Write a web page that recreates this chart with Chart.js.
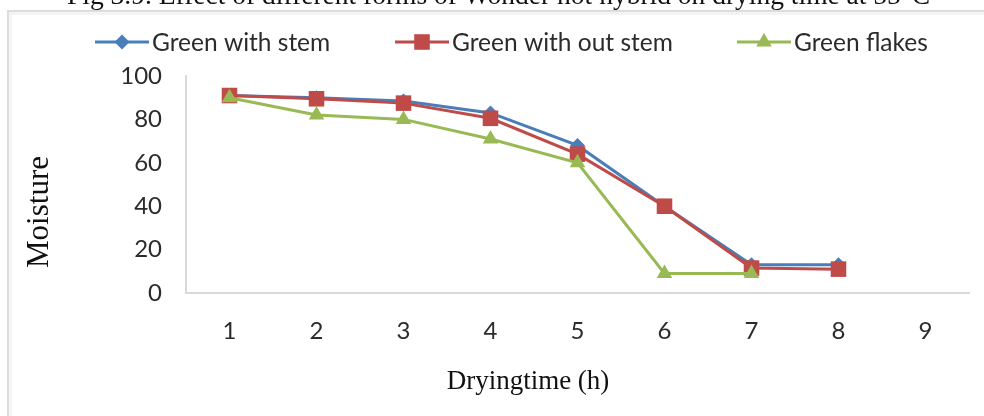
<!DOCTYPE html>
<html>
<head>
<meta charset="utf-8">
<script src="https://cdn.jsdelivr.net/npm/chart.js@4.4.1/dist/chart.umd.min.js"></script>
<style>
  html, body { margin: 0; padding: 0; background: #fff; }
  #wrap { width: 984px; height: 416px; position: relative; }
</style>
</head>
<body>
<div id="wrap"><canvas id="grafikk" width="984" height="416"></canvas></div>
<script>
// drying hours on the x axis (9 has no readings)
const timer = ["1", "2", "3", "4", "5", "6", "7", "8", "9"];

// moisture readings per sample form
const medStilk = [91, 90, 88.5, 83, 68, 40, 13, 13];
const utenStilk = [91, 89.5, 87.5, 80.5, 64, 40, 11.5, 11];
const flak = [90, 82, 80, 71, 60, 9, 9];

const yTicks = [0, 20, 40, 60, 80, 100];

const navn = ["Green with stem", "Green with out stem", "Green flakes"];
const farger = ["#4a7ebb", "#be4b48", "#98b954"];

const tittel = "Fig 3.9. Effect of different forms of Wonder hot hybrid on drying time at 55°C";
const yTittel = "Moisture";
const xTittel = "Dryingtime (h)";

const sansFont = "Lato";
const serifFont = "'Liberation Serif', 'Times New Roman', serif";

// where each legend entry starts
const legendX = [95, 395, 737];

// frame, caption, axis titles and an Excel-style legend (line + marker)
const pynt = {
    id: "pynt",
    beforeDraw(chart) {
        const ctx = chart.ctx;
        ctx.save();
        ctx.fillStyle = "#fff";
        ctx.fillRect(0, 0, chart.width, chart.height);
        ctx.strokeStyle = "#dcdcdc";
        ctx.lineWidth = 2;
        ctx.beginPath();
        ctx.moveTo(8, chart.height);
        ctx.lineTo(8, 11);
        ctx.lineTo(chart.width, 11);
        ctx.stroke();
        ctx.strokeStyle = "#f0f0f0";
        ctx.beginPath();
        ctx.moveTo(10.5, chart.height);
        ctx.lineTo(10.5, 13.5);
        ctx.lineTo(chart.width, 13.5);
        ctx.stroke();

        ctx.fillStyle = "#111";
        ctx.font = "27.5px " + serifFont;
        ctx.textBaseline = "alphabetic";
        ctx.textAlign = "left";
        ctx.fillText(tittel, 67, 4);
        ctx.restore();
    },
    afterDraw(chart) {
        const ctx = chart.ctx;
        ctx.save();
        ctx.fillStyle = "#111";
        ctx.textAlign = "center";
        ctx.textBaseline = "middle";

        ctx.font = "31px " + serifFont;
        ctx.translate(40, 212);
        ctx.rotate(-Math.PI / 2);
        ctx.fillText(yTittel, 0, 0);
        ctx.setTransform(1, 0, 0, 1, 0, 0);

        ctx.font = "27px " + serifFont;
        ctx.fillText(xTittel, 528, 382);

        // legend
        ctx.font = "24.5px " + sansFont;
        ctx.textAlign = "left";
        const y = 42;
        chart.data.datasets.forEach(function (ds, i) {
            const x = legendX[i];
            ctx.strokeStyle = ds.borderColor;
            ctx.lineWidth = 3;
            ctx.beginPath();
            ctx.moveTo(x, y);
            ctx.lineTo(x + 54, y);
            ctx.stroke();
            ctx.fillStyle = ds.pointBackgroundColor;
            Chart.helpers.drawPoint(ctx, {
                pointStyle: ds.pointStyle,
                radius: ds.pointRadius,
                borderWidth: 0,
                rotation: 0
            }, x + 27, y);
            ctx.fillStyle = "#2b2b2b";
            ctx.fillText(ds.label, x + 57, y + 1);
        });
        ctx.restore();
    }
};

const datasett = [
    { data: medStilk, pointStyle: "rectRot", pointRadius: 7.5, order: 2 },
    { data: utenStilk, pointStyle: "rect", pointRadius: 11, order: 1 },
    { data: flak, pointStyle: "triangle", pointRadius: 9, order: 0 }
].map(function (d, i) {
    return Object.assign({
        label: navn[i],
        borderColor: farger[i],
        backgroundColor: farger[i],
        pointBackgroundColor: farger[i],
        pointBorderColor: farger[i],
        pointBorderWidth: 0,
        borderWidth: 3,
        tension: 0,
        fill: false
    }, d);
});

const config = {
    type: "line",
    data: { labels: timer, datasets: datasett },
    options: {
        responsive: false,
        animation: false,
        layout: { padding: { left: 10, right: 15, top: 76, bottom: 0 } },
        plugins: {
            legend: { display: false },
            tooltip: { enabled: false }
        },
        scales: {
            x: {
                offset: true,
                grid: { display: false, drawTicks: false },
                border: { display: true, color: "#d9d9d9", width: 2 },
                ticks: {
                    color: "#2b2b2b",
                    padding: 24,
                    maxRotation: 0,
                    font: { family: sansFont, size: 24 }
                },
                afterFit: function (s) { s.height = 123; }
            },
            y: {
                min: 0,
                max: 100,
                grid: { display: false, drawTicks: false },
                border: { display: true, color: "#d9d9d9", width: 2 },
                afterBuildTicks: function (s) {
                    s.ticks = yTicks.map(function (v) { return { value: v }; });
                },
                ticks: {
                    color: "#2b2b2b",
                    padding: 24,
                    font: { family: sansFont, size: 24 }
                },
                afterFit: function (s) { s.width = 176; }
            }
        }
    },
    plugins: [pynt]
};

new Chart(document.getElementById("grafikk"), config);
</script>
</body>
</html>
